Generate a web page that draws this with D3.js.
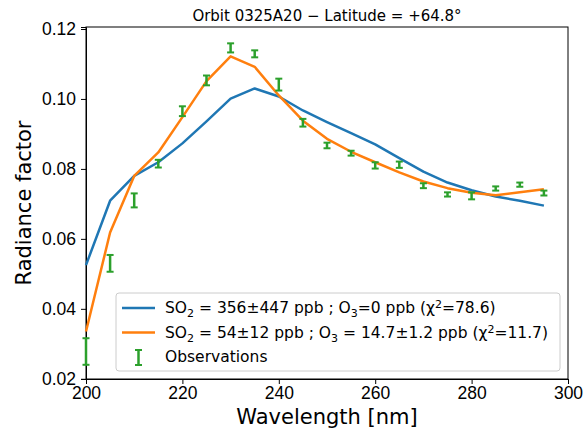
<!DOCTYPE html>
<html>
<head>
<meta charset="utf-8">
<script src="https://cdn.jsdelivr.net/npm/d3@7"></script>
<style>
  body { margin: 0; background: #fff; }
  svg { font-family: "DejaVu Sans", sans-serif; }
  .axis path, .axis line { stroke: #000; stroke-width: 1; }
  .axis text { font-size: 17.5px; fill: #000; }
</style>
</head>
<body>
<div id="chart"></div>
<script>
// Daten
const WAVELENGTHS = [200, 205, 210, 215, 220, 225, 230, 235, 240, 245, 250, 255, 260, 265, 270, 275, 280, 285, 290, 295];
const MODEL_SO2 = [0.0525, 0.0709, 0.0780, 0.0819, 0.0873, 0.0936, 0.1001, 0.1030, 0.1007, 0.0967, 0.0934, 0.0902, 0.0870, 0.0831, 0.0792, 0.0761, 0.0739, 0.0721, 0.0709, 0.0695];
const MODEL_SO2_O3 = [0.0335, 0.0618, 0.0780, 0.0847, 0.0948, 0.1051, 0.1122, 0.1092, 0.1010, 0.0938, 0.0886, 0.0849, 0.0819, 0.0790, 0.0764, 0.0745, 0.0732, 0.0725, 0.0733, 0.0742];
const OBS = [0.0278, 0.0530, 0.0710, 0.0815, 0.0965, 0.1053, 0.1146, 0.1129, 0.1041, 0.0932, 0.0867, 0.0845, 0.0810, 0.0812, 0.0752, 0.0727, 0.0723, 0.0744, 0.0755, 0.0731];
const OBS_ERR = [0.0038, 0.0024, 0.0020, 0.0011, 0.0014, 0.0014, 0.0013, 0.0010, 0.0017, 0.0011, 0.0008, 0.0007, 0.0009, 0.0009, 0.0007, 0.0006, 0.0010, 0.0006, 0.0006, 0.0007];
const X_TICKS = [200, 220, 240, 260, 280, 300];
const Y_TICKS = [0.02, 0.04, 0.06, 0.08, 0.10, 0.12];

const W = 588, H = 431;
const margin = { top: 27, right: 20, bottom: 52, left: 86 };
const innerW = W - margin.left - margin.right;
const innerH = H - margin.top - margin.bottom;

const svg = d3.select("#chart").append("svg")
  .attr("width", W).attr("height", H);

const g = svg.append("g").attr("transform", `translate(${margin.left},${margin.top})`);

const x = d3.scaleLinear().domain([200, 300]).range([0, innerW]);
const y = d3.scaleLinear().domain([0.01994, 0.12057]).range([innerH, 0]);

// Achsen
g.append("g").attr("class", "axis")
  .attr("transform", `translate(0,${innerH})`)
  .call(d3.axisBottom(x).tickValues(X_TICKS).tickSize(5).tickPadding(3).tickFormat(d3.format("d")));

g.append("g").attr("class", "axis")
  .call(d3.axisLeft(y).tickValues(Y_TICKS).tickSize(5).tickPadding(5).tickFormat(d3.format(".2f")));

// Rahmen
g.append("rect").attr("width", innerW).attr("height", innerH)
  .attr("fill", "none").attr("stroke", "#000").attr("stroke-width", 1);

// Kurven
const line = d3.line().x((d, i) => x(WAVELENGTHS[i])).y(d => y(d));

g.append("path").datum(MODEL_SO2).attr("d", line)
  .attr("fill", "none").attr("stroke", "#1f77b4").attr("stroke-width", 2.5).attr("stroke-linejoin", "round");
g.append("path").datum(MODEL_SO2_O3).attr("d", line)
  .attr("fill", "none").attr("stroke", "#ff7f0e").attr("stroke-width", 2.5).attr("stroke-linejoin", "round");

// Fehlerbalken
const green = "#2ca02c";
const obsG = g.append("g");
const bars = obsG.selectAll("g").data(OBS).enter().append("g");
bars.append("line")
  .attr("x1", (d, i) => x(WAVELENGTHS[i])).attr("x2", (d, i) => x(WAVELENGTHS[i]))
  .attr("y1", (d, i) => y(d - OBS_ERR[i])).attr("y2", (d, i) => y(d + OBS_ERR[i]))
  .attr("stroke", green).attr("stroke-width", 2.5);
[-1, 1].forEach(s => {
  bars.append("line")
    .attr("x1", (d, i) => x(WAVELENGTHS[i]) - 3.5).attr("x2", (d, i) => x(WAVELENGTHS[i]) + 3.5)
    .attr("y1", (d, i) => y(d + s * OBS_ERR[i])).attr("y2", (d, i) => y(d + s * OBS_ERR[i]))
    .attr("stroke", green).attr("stroke-width", 2);
});

// Legende
const leg = g.append("g").attr("transform", `translate(${116 - margin.left},${293 - margin.top})`);
leg.append("rect").attr("width", 444).attr("height", 78).attr("rx", 3)
  .attr("fill", "#fff").attr("fill-opacity", 0.8).attr("stroke", "#ccc");

function addLabel(yy, parts) {
  const t = leg.append("text").attr("x", 49).attr("y", yy + 5).attr("font-size", 15.5).attr("fill", "#000");
  parts.forEach(p => {
    const ts = t.append("tspan").text(p[0]);
    if (p[1] === "sub") ts.attr("font-size", 11).attr("dy", 4);
    if (p[1] === "up") ts.attr("dy", -4);
    if (p[1] === "sup") ts.attr("font-size", 11).attr("dy", -5);
    if (p[1] === "down") ts.attr("dy", 5);
  });
}
leg.append("line").attr("x1", 6).attr("x2", 39).attr("y1", 15).attr("y2", 15)
  .attr("stroke", "#1f77b4").attr("stroke-width", 2.5);
addLabel(15, [["SO"], ["2", "sub"], [" = 356±447 ppb ; O", "up"], ["3", "sub"], ["=0 ppb (χ", "up"], ["2", "sup"], ["=78.6)", "down"]]);
leg.append("line").attr("x1", 6).attr("x2", 39).attr("y1", 39.5).attr("y2", 39.5)
  .attr("stroke", "#ff7f0e").attr("stroke-width", 2.5);
addLabel(40, [["SO"], ["2", "sub"], [" = 54±12 ppb ; O", "up"], ["3", "sub"], [" = 14.7±1.2 ppb (χ", "up"], ["2", "sup"], ["=11.7)", "down"]]);
leg.append("line").attr("x1", 22.5).attr("x2", 22.5).attr("y1", 57).attr("y2", 72)
  .attr("stroke", green).attr("stroke-width", 2.5);
[57, 72].forEach(v => leg.append("line").attr("x1", 19).attr("x2", 26).attr("y1", v).attr("y2", v)
  .attr("stroke", green).attr("stroke-width", 2));
leg.append("text").attr("x", 49).attr("y", 69).attr("font-size", 15.5).text("Observations");

// Titel und Achsenbeschriftungen
svg.append("text").attr("x", margin.left + innerW / 2).attr("y", 21)
  .attr("text-anchor", "middle").attr("font-size", 15).text("Orbit 0325A20 \u2212 Latitude = +64.8°");
svg.append("text").attr("x", margin.left + innerW / 2).attr("y", 424)
  .attr("text-anchor", "middle").attr("font-size", 21).text("Wavelength [nm]");
svg.append("text").attr("transform", `translate(31,${margin.top + innerH / 2}) rotate(-90)`)
  .attr("text-anchor", "middle").attr("font-size", 21).text("Radiance factor");
</script>
</body>
</html>
